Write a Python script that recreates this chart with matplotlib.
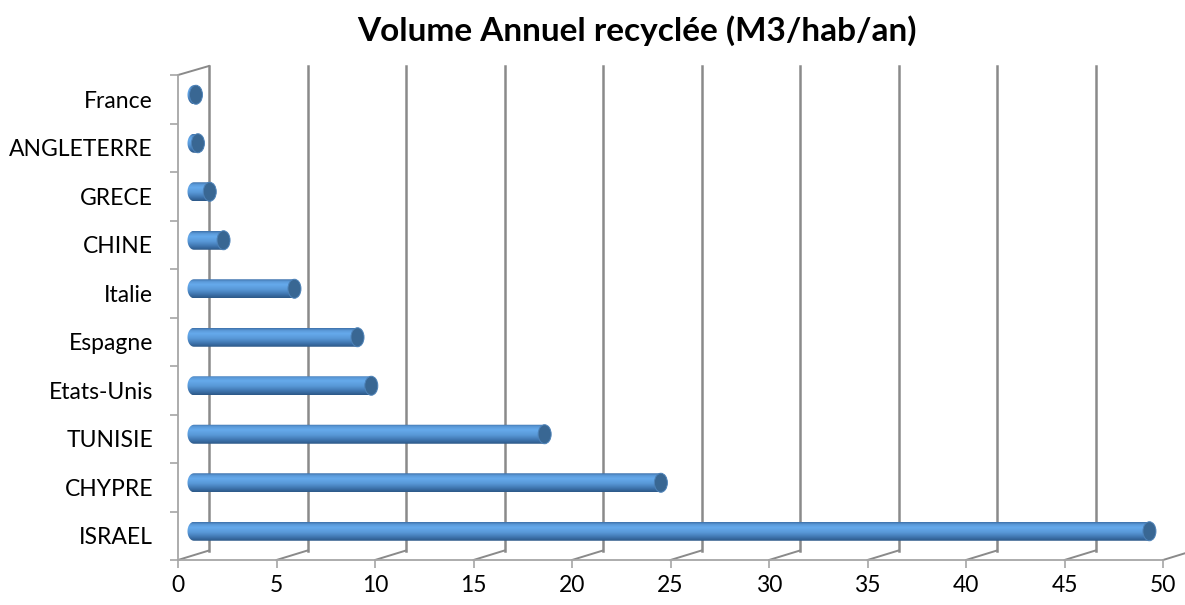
import numpy as np
import matplotlib.pyplot as plt
from matplotlib.colors import LinearSegmentedColormap
from matplotlib.patches import Ellipse, PathPatch
from matplotlib.path import Path

plt.rcParams['font.family'] = ['Lato', 'DejaVu Sans']

countries = ['ISRAEL', 'CHYPRE', 'TUNISIE', 'Etats-Unis', 'Espagne',
             'Italie', 'CHINE', 'GRECE', 'ANGLETERRE', 'France']
volumes = [48.5, 23.7, 17.8, 9.0, 8.3, 5.1, 1.5, 0.8, 0.2, 0.1]
x_ticks = [0, 5, 10, 15, 20, 25, 30, 35, 40, 45, 50]
title = 'Volume Annuel recyclée (M3/hab/an)'

# pixel scale of the axes (1 unit of x = 19.7 px, 1 category = 48.5 px)
PX_X = 985 / 50
PX_Y = 485 / 10
# 3d depth offsets (back wall and bar axis), in data units
BACK_DX, BACK_DY = 31 / PX_X, 9.5 / PX_Y
BAR_DX, BAR_DY = 16 / PX_X, 4.5 / PX_Y
BAR_H = 9.5 / PX_Y
CAP_W = 13 / PX_X

GRID = '#8a8a8a'
AXIS = '#a6a6a6'

fig = plt.figure(figsize=(11.85, 6.05), dpi=100)
ax = fig.add_axes([178 / 1185, 45 / 605, 985 / 1185, 485 / 605])

# back wall gridlines + floor slants
for t in x_ticks:
    ax.plot([t, t + BACK_DX], [0, BACK_DY], color=GRID, lw=1.4,
            clip_on=False, zorder=1)
    ax.plot([t + BACK_DX, t + BACK_DX], [BACK_DY, 10 + BACK_DY * 0.95],
            color=GRID, lw=1.8, clip_on=False, zorder=1)
# top of side wall
ax.plot([0, BACK_DX], [10, 10 + BACK_DY * 0.95], color=GRID, lw=1.4,
        clip_on=False, zorder=1)

cmap = LinearSegmentedColormap.from_list('cyl', [
    (0.0, '#2c5887'), (0.18, '#3d72ab'), (0.45, '#5898d7'),
    (0.72, '#66aaec'), (0.88, '#5a99d8'), (1.0, '#3e71a9')])
grad = np.linspace(0, 1, 64).reshape(-1, 1)

for i, (name, v) in enumerate(zip(countries, volumes)):
    yc = i + 0.5 + BAR_DY
    x0 = BAR_DX
    x1 = v + BAR_DX
    a = CAP_W / 2
    t = np.linspace(np.pi / 2, 3 * np.pi / 2, 40)
    verts = list(zip(x0 + a * np.cos(t), yc + BAR_H * np.sin(t)))
    verts += [(x1, yc - BAR_H), (x1, yc + BAR_H), (x0, yc + BAR_H)]
    codes = [Path.MOVETO] + [Path.LINETO] * (len(verts) - 2) + [Path.CLOSEPOLY]
    body = PathPatch(Path(verts, codes), facecolor='none', edgecolor='none',
                     zorder=3, clip_on=False)
    ax.add_patch(body)
    im = ax.imshow(grad, extent=[x0 - a, x1, yc - BAR_H, yc + BAR_H],
                   origin='lower', aspect='auto', cmap=cmap, zorder=3,
                   interpolation='bilinear')
    im.set_clip_path(body)
    ax.add_patch(Ellipse((x1, yc), CAP_W, 2 * BAR_H, facecolor='#396793',
                         edgecolor='#4d82b8', lw=0.7, zorder=4, clip_on=False))

ax.set_xlim(0, 50)
ax.set_ylim(0, 10)

ax.set_xticks(x_ticks)
ax.set_xticklabels([str(t) for t in x_ticks])
ax.set_yticks(np.arange(len(countries)) + 0.5)
ax.set_yticklabels(countries)
ax.set_yticks(np.arange(len(countries) + 1), minor=True)
ax.tick_params(axis='y', which='major', length=0, pad=18, labelsize=16.5)
ax.tick_params(axis='y', which='minor', length=6, width=1.2, color=AXIS)
ax.tick_params(axis='x', length=6, width=1.2, color=AXIS, pad=5,
               labelsize=16.5)

for side in ['top', 'right']:
    ax.spines[side].set_visible(False)
for side in ['left', 'bottom']:
    ax.spines[side].set_color(AXIS)
    ax.spines[side].set_linewidth(1.3)
ax.patch.set_alpha(0)

fig.text(637 / 1185, 1 - 31 / 605, title, ha='center', va='center',
         fontsize=24, fontweight='bold')

fig.savefig('out.png', dpi=100)
